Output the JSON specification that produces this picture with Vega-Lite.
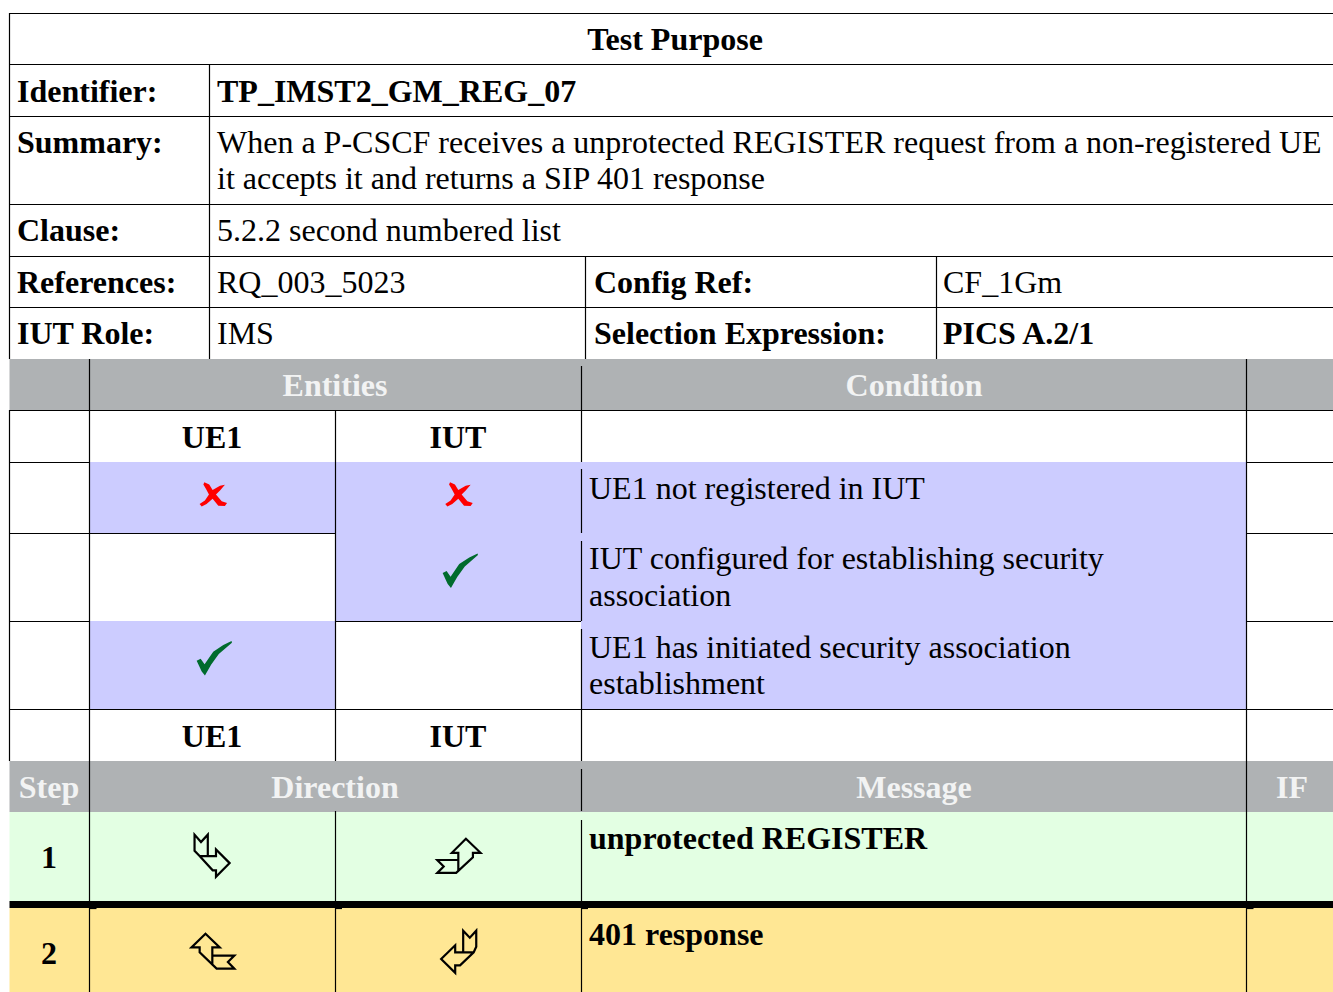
{"$schema":"https://vega.github.io/schema/vega-lite/v6.json","width":1333,"height":992,"padding":0,"autosize":"none","background":"white",
"config":{"view":{"stroke":null},"axis":{"domain":false}},
"datasets":{
"cells":[{"a":9.5,"b":1333,"c":359,"d":410,"s":"head"},{"a":9.5,"b":1333,"c":761,"d":812,"s":"head"},{"a":9.5,"b":1333,"c":812,"d":901,"s":"step1"},{"a":9.5,"b":1333,"c":908,"d":992,"s":"step2"},{"a":89.5,"b":335,"c":462,"d":533,"s":"cond"},{"a":335,"b":581,"c":462,"d":621,"s":"cond"},{"a":581,"b":1246.5,"c":462,"d":709.5,"s":"cond"},{"a":89.5,"b":335,"c":621,"d":709.5,"s":"cond"}],
"hlines":[{"a":9,"b":1333,"y":13.5},{"a":9,"b":1333,"y":64.5},{"a":9,"b":1333,"y":116.5},{"a":9,"b":1333,"y":204.5},{"a":9,"b":1333,"y":256.5},{"a":9,"b":1333,"y":307.5},{"a":9,"b":1333,"y":410.5},{"a":9,"b":89.5,"y":462.5},{"a":1246.5,"b":1333,"y":462.5},{"a":9,"b":335,"y":533.5},{"a":1246.5,"b":1333,"y":533.5},{"a":9,"b":89.5,"y":621.5},{"a":335,"b":581,"y":621.5},{"a":1246.5,"b":1333,"y":621.5},{"a":9,"b":1333,"y":709.5},{"a":89.5,"b":96.5,"y":908.5},{"a":335,"b":342,"y":908.5},{"a":581,"b":588,"y":908.5},{"a":1246.5,"b":1253.5,"y":908.5}],
"vlines":[{"x":9.5,"a":13,"b":359},{"x":9.5,"a":410,"b":761},{"x":209.5,"a":64,"b":359},{"x":585.5,"a":256,"b":359},{"x":936.5,"a":256,"b":359},{"x":89.5,"a":359,"b":992},{"x":335.5,"a":410,"b":761},{"x":335.5,"a":811,"b":992},{"x":581.5,"a":366,"b":462},{"x":581.5,"a":469,"b":533},{"x":581.5,"a":541,"b":621},{"x":581.5,"a":629,"b":761},{"x":581.5,"a":769,"b":811},{"x":581.5,"a":820,"b":992},{"x":1246.5,"a":359,"b":992}],
"thick":[{"a":9.5,"b":1333,"c":901,"d":908}],
"boldLeft":[{"t":"Identifier:","x":17,"y":102},{"t":"TP_IMST2_GM_REG_07","x":217,"y":102},{"t":"Summary:","x":17,"y":153},{"t":"Clause:","x":17,"y":241},{"t":"References:","x":17,"y":293},{"t":"Config Ref:","x":594,"y":293},{"t":"IUT Role:","x":17,"y":344},{"t":"Selection Expression:","x":594,"y":344},{"t":"PICS A.2/1","x":943,"y":344},{"t":"unprotected REGISTER","x":589,"y":849},{"t":"401 response","x":589,"y":945}],
"normalLeft":[{"t":"When a P-CSCF receives a unprotected REGISTER request from a non-registered UE","x":217,"y":153},{"t":"it accepts it and returns a SIP 401 response","x":217,"y":189},{"t":"5.2.2 second numbered list","x":217,"y":241},{"t":"RQ_003_5023","x":217,"y":293},{"t":"CF_1Gm","x":943,"y":293},{"t":"IMS","x":217,"y":344},{"t":"UE1 not registered in IUT","x":589,"y":499},{"t":"IUT configured for establishing security","x":589,"y":569},{"t":"association","x":589,"y":606},{"t":"UE1 has initiated security association","x":589,"y":658},{"t":"establishment","x":589,"y":694}],
"boldCenter":[{"t":"Test Purpose","x":675,"y":50},{"t":"UE1","x":212,"y":448},{"t":"IUT","x":458,"y":448},{"t":"UE1","x":212,"y":747},{"t":"IUT","x":458,"y":747},{"t":"1","x":49,"y":868},{"t":"2","x":49,"y":964}],
"whiteCenter":[{"t":"Entities","x":335,"y":396},{"t":"Condition","x":914,"y":396},{"t":"Step","x":49,"y":798},{"t":"Direction","x":335,"y":798},{"t":"Message","x":914,"y":798},{"t":"IF","x":1292,"y":798}],
"crosses":[{"x":213.3,"y":494.5},{"x":459,"y":494.5}],
"checks":[{"x":214.3,"y":658.3},{"x":460.3,"y":570.7}],
"a1":[{"x":211.7,"y":855.7}],"a2":[{"x":458.7,"y":855.7}],"a3":[{"x":213.3,"y":951.7}],"a4":[{"x":458.7,"y":951.7}]
},
"layer":[
{"data":{"name":"cells"},"mark":{"type":"rect","strokeWidth":0},"encoding":{"x":{"field":"a","type":"quantitative","scale":{"domain":[0,1333],"nice":false,"zero":false},"axis":null},"x2":{"field":"b"},"y":{"field":"c","type":"quantitative","scale":{"domain":[992,0],"nice":false,"zero":false},"axis":null},"y2":{"field":"d"},"color":{"field":"s","type":"nominal","legend":null,"scale":{"domain":["head","step1","step2","cond"],"range":["#AFB2B4","#E3FFE3","#FFE794","#CCCCFF"]}}}},
{"data":{"name":"thick"},"mark":{"type":"rect","color":"#000000","strokeWidth":0},"encoding":{"x":{"field":"a","type":"quantitative","scale":{"domain":[0,1333],"nice":false,"zero":false},"axis":null},"x2":{"field":"b"},"y":{"field":"c","type":"quantitative","scale":{"domain":[992,0],"nice":false,"zero":false},"axis":null},"y2":{"field":"d"}}},
{"data":{"name":"hlines"},"mark":{"type":"rule","color":"#000000","strokeWidth":1.2},"encoding":{"x":{"field":"a","type":"quantitative","scale":{"domain":[0,1333],"nice":false,"zero":false},"axis":null},"x2":{"field":"b"},"y":{"field":"y","type":"quantitative","scale":{"domain":[992,0],"nice":false,"zero":false},"axis":null}}},
{"data":{"name":"vlines"},"mark":{"type":"rule","color":"#000000","strokeWidth":1.2},"encoding":{"x":{"field":"x","type":"quantitative","scale":{"domain":[0,1333],"nice":false,"zero":false},"axis":null},"y":{"field":"a","type":"quantitative","scale":{"domain":[992,0],"nice":false,"zero":false},"axis":null},"y2":{"field":"b"}}},
{"data":{"name":"boldLeft"},"mark":{"type":"text","font":"Liberation Serif","fontSize":32,"fontWeight":"bold","align":"left","baseline":"alphabetic","color":"#000000"},"encoding":{"x":{"field":"x","type":"quantitative","scale":{"domain":[0,1333],"nice":false,"zero":false},"axis":null},"y":{"field":"y","type":"quantitative","scale":{"domain":[992,0],"nice":false,"zero":false},"axis":null},"text":{"field":"t"}}},
{"data":{"name":"normalLeft"},"mark":{"type":"text","font":"Liberation Serif","fontSize":32,"align":"left","baseline":"alphabetic","color":"#000000"},"encoding":{"x":{"field":"x","type":"quantitative","scale":{"domain":[0,1333],"nice":false,"zero":false},"axis":null},"y":{"field":"y","type":"quantitative","scale":{"domain":[992,0],"nice":false,"zero":false},"axis":null},"text":{"field":"t"}}},
{"data":{"name":"boldCenter"},"mark":{"type":"text","font":"Liberation Serif","fontSize":32,"fontWeight":"bold","align":"center","baseline":"alphabetic","color":"#000000"},"encoding":{"x":{"field":"x","type":"quantitative","scale":{"domain":[0,1333],"nice":false,"zero":false},"axis":null},"y":{"field":"y","type":"quantitative","scale":{"domain":[992,0],"nice":false,"zero":false},"axis":null},"text":{"field":"t"}}},
{"data":{"name":"whiteCenter"},"mark":{"type":"text","font":"Liberation Serif","fontSize":32,"fontWeight":"bold","align":"center","baseline":"alphabetic","color":"#F2F3F3"},"encoding":{"x":{"field":"x","type":"quantitative","scale":{"domain":[0,1333],"nice":false,"zero":false},"axis":null},"y":{"field":"y","type":"quantitative","scale":{"domain":[992,0],"nice":false,"zero":false},"axis":null},"text":{"field":"t"}}},
{"data":{"name":"crosses"},"mark":{"type":"point","filled":true,"color":"#FF0000","opacity":1,"size":784,"strokeWidth":0,"shape":"M-.64,-.88L-.29,-.71L-.05,-.33L.48,-.62L.83,-.69L.48,-.29L.19,0L.6,.48L.98,.6L.83,.83L.36,.81L-.05,.31L-.48,.67L-.83,.86L-.98,.67L-.6,.43L-.31,0L-.52,-.4L-.71,-.71Z"},"encoding":{"x":{"field":"x","type":"quantitative","scale":{"domain":[0,1333],"nice":false,"zero":false},"axis":null},"y":{"field":"y","type":"quantitative","scale":{"domain":[992,0],"nice":false,"zero":false},"axis":null}}},
{"data":{"name":"checks"},"mark":{"type":"point","filled":true,"color":"#006B2D","opacity":1,"size":1296,"strokeWidth":0,"shape":"M-.98,.13L-.76,.02L-.54,.33L-.06,-.37L.5,-.74L.96,-.96L.98,-.87L.25,-.24L-.17,.35L-.52,.96L-.7,.74L-.83,.46Z"},"encoding":{"x":{"field":"x","type":"quantitative","scale":{"domain":[0,1333],"nice":false,"zero":false},"axis":null},"y":{"field":"y","type":"quantitative","scale":{"domain":[992,0],"nice":false,"zero":false},"axis":null}}},
{"data":{"name":"a1"},"mark":{"type":"point","filled":false,"color":"#000000","opacity":1,"size":1520,"strokeWidth":2.2,"shape":"M-.88,-1.08L-.55,-.7L-.2,-1.08L-.2,.02L.22,.02L.22,-.32L.92,.38L.22,1.08L.22,.75L.05,.75L-.62,.02L-.88,-.25ZM-.62,.02L-.2,.02"},"encoding":{"x":{"field":"x","type":"quantitative","scale":{"domain":[0,1333],"nice":false,"zero":false},"axis":null},"y":{"field":"y","type":"quantitative","scale":{"domain":[992,0],"nice":false,"zero":false},"axis":null}}},
{"data":{"name":"a2"},"mark":{"type":"point","filled":false,"color":"#000000","opacity":1,"size":1520,"strokeWidth":2.2,"shape":"M.37,-.87L1.12,-.15L.73,-.15L.73,.08L-.13,.88L-1.1,.88L-.77,.55L-1.1,.22L-.02,.22L-.02,-.15L-.35,-.15ZM-.02,.22L-.02,.75"},"encoding":{"x":{"field":"x","type":"quantitative","scale":{"domain":[0,1333],"nice":false,"zero":false},"axis":null},"y":{"field":"y","type":"quantitative","scale":{"domain":[992,0],"nice":false,"zero":false},"axis":null}}},
{"data":{"name":"a3"},"mark":{"type":"point","filled":false,"color":"#000000","opacity":1,"size":1520,"strokeWidth":2.2,"shape":"M-.4,-.92L.33,-.22L-.05,-.22L-.05,.2L1.08,.2L.75,.53L1.08,.87L.17,.87L-.7,.03L-.7,-.22L-1.12,-.22ZM-.05,.2L-.05,.7"},"encoding":{"x":{"field":"x","type":"quantitative","scale":{"domain":[0,1333],"nice":false,"zero":false},"axis":null},"y":{"field":"y","type":"quantitative","scale":{"domain":[992,0],"nice":false,"zero":false},"axis":null}}},
{"data":{"name":"a4"},"mark":{"type":"point","filled":false,"color":"#000000","opacity":1,"size":1520,"strokeWidth":2.2,"shape":"M.23,-1.08L.57,-.72L.9,-1.08L.9,-.25L.77,.03L.07,.7L-.18,.7L-.18,1.08L-.9,.37L-.18,-.33L-.18,.03L.23,.03ZM.23,.03L.77,.03"},"encoding":{"x":{"field":"x","type":"quantitative","scale":{"domain":[0,1333],"nice":false,"zero":false},"axis":null},"y":{"field":"y","type":"quantitative","scale":{"domain":[992,0],"nice":false,"zero":false},"axis":null}}}
]}
